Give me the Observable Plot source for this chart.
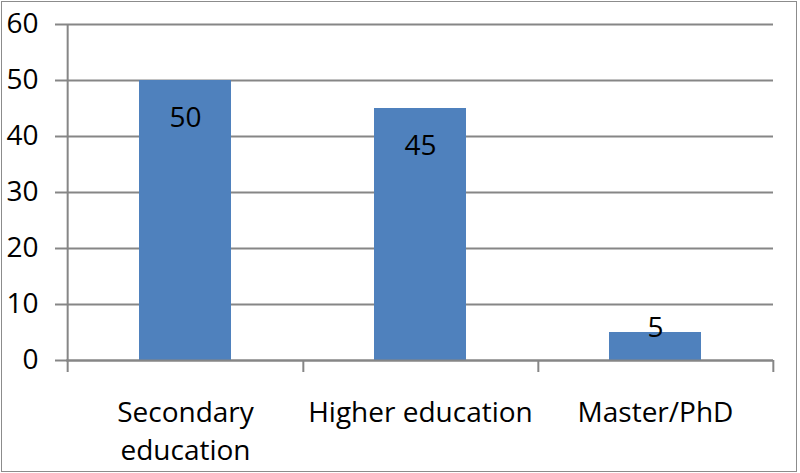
<!DOCTYPE html>
<html>
<head>
<meta charset="utf-8">
<script src="https://cdn.jsdelivr.net/npm/d3@7"></script>
<script src="https://cdn.jsdelivr.net/npm/@observablehq/plot@0.6"></script>
<style>
  html, body { margin: 0; padding: 0; background: #fff; }
  #wrap { position: relative; width: 800px; height: 473px; overflow: hidden; }
  #border { position: absolute; left: 1px; top: 1px; width: 794px; height: 469px; border: 1.5px solid #8c8c8c; pointer-events: none; }
</style>
</head>
<body>
<div id="wrap"><div id="border"></div></div>
<script>
const categories = ["Secondary education", "Higher education", "Master/PhD"];
const values = [50, 45, 5];
const xTickLabels = ["Secondary\neducation", "Higher education", "Master/PhD"];
const yTicks = [0, 10, 20, 30, 40, 50, 60];

const data = categories.map((c, i) => ({category: c, value: values[i], label: xTickLabels[i]}));

const W = 800, H = 473;
const mL = 66, mR = 27, mT = 24, mB = 113;
const step = (W - mL - mR) / categories.length;
const grey = "#868686";
const font = "'Open Sans', sans-serif";
const fs = 28;

const plot = Plot.plot({
  width: W,
  height: H,
  marginLeft: mL,
  marginRight: mR,
  marginTop: mT,
  marginBottom: mB,
  style: {fontFamily: font, fontSize: fs + "px", color: "#000", background: "transparent"},
  x: {domain: categories, paddingInner: 0.61, paddingOuter: 0.305, label: null},
  y: {domain: [0, 60], label: null},
  marks: [
    Plot.ruleY(yTicks, {stroke: grey, strokeWidth: 2}),
    Plot.axisY({ticks: yTicks, tickSize: 11, tickPadding: 17, stroke: grey, strokeWidth: 2, fill: "#000", fontSize: fs, label: null}),
    Plot.barY(data, {x: "category", y: "value", fill: "#4F81BD"}),
    Plot.ruleX([categories[0]], {x: d => d, dx: -step / 2, y1: 60, y2: 0, insetBottom: -12, stroke: grey, strokeWidth: 2}),
    Plot.ruleX(categories, {x: d => d, dx: step / 2, y1: 0, y2: 0, insetBottom: -12, stroke: grey, strokeWidth: 2}),
    Plot.ruleY([0], {stroke: grey, strokeWidth: 2}),
    Plot.axisX({tickSize: 0, tickPadding: 34, fill: "#000", fontSize: fs, lineHeight: 1.36, tickFormat: c => xTickLabels[categories.indexOf(c)], label: null}),
    Plot.text(data.filter(d => d.value >= 10), {x: "category", y: "value", text: d => String(d.value), dy: 38, fontSize: fs, fill: "#000"}),
    Plot.text(data.filter(d => d.value < 10), {x: "category", y: "value", text: d => String(d.value), dy: -4, fontSize: fs, fill: "#000"})
  ]
});

document.getElementById("wrap").prepend(plot);
</script>
</body>
</html>
